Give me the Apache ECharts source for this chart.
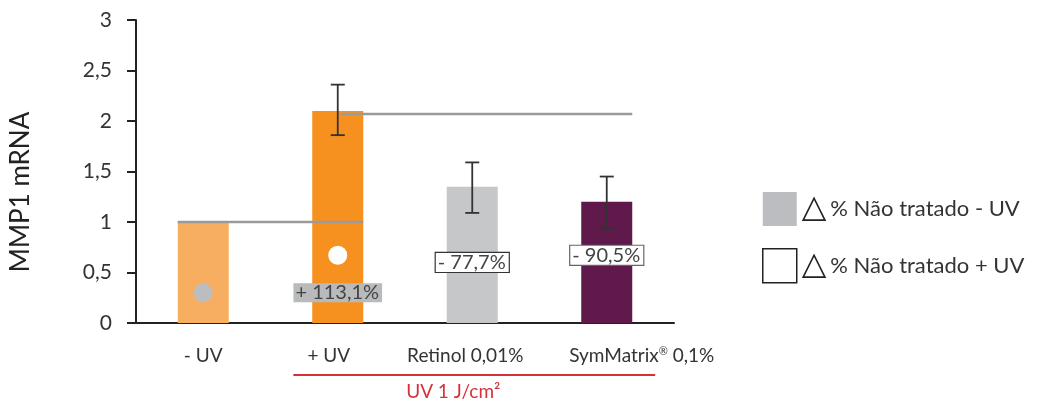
<!DOCTYPE html>
<html>
<head>
<meta charset="utf-8">
<script src="https://cdn.jsdelivr.net/npm/echarts@6/dist/echarts.min.js"></script>
<style>
  html, body { margin: 0; padding: 0; background: #fff; }
  #chart { width: 1042px; height: 403px; }
</style>
</head>
<body>
<div id="chart"></div>
<script>
'use strict';

// dados
const categories = ['- UV', '+ UV', 'Retinol 0,01%', 'SymMatrix® 0,1%'];
const mmp1 = [1.0, 2.1, 1.35, 1.2];
const errLow = [null, 1.86, 1.09, 0.94];
const errHigh = [null, 2.36, 1.59, 1.45];
const yTicks = [0, 0.5, 1, 1.5, 2, 2.5, 3];

// linhas de referência: [categoria inicial, categoria final, nível]
const refLines = [[0, 1, 1.0], [1, 3, 2.07]];

// pontos "não tratado"
const untreatedMinusUV = [[0, 0.3]];
const untreatedPlusUV = [[1, 0.67]];

// variação percentual: [categoria, nível, texto]
const changeLabels = [[1, 0.3, '+ 113,1%'], [2, 0.6, '- 77,7%'], [3, 0.67, '- 90,5%']];

const uvGroup = [[1, 3, 'UV 1 J/cm²']];

const barColors = ['#F8AE61', '#F6911F', '#C6C7C9', '#5F1A4B'];
// pequenos deslocamentos dos rótulos do eixo x (como no original)
const labelPads = [[0, 0, 0, 0], [0, 18, 0, 0], [0, 14, 0, 0], [0, 0, 0, 70]];
const FONT = 'Lato, sans-serif';
const BAR_W = 51;

const chart = echarts.init(document.getElementById('chart'));

const option = {
    animation: false,
    textStyle: { fontFamily: FONT },
    grid: { left: 134, right: 368, top: 20, bottom: 80 },
    legend: {
        orient: 'vertical',
        left: 757,
        top: 187,
        icon: 'rect',
        itemWidth: 34,
        itemHeight: 34,
        itemGap: 22,
        selectedMode: false,
        data: [
            { name: '% Não tratado - UV', itemStyle: { color: '#BCBDC0' } },
            { name: '% Não tratado + UV', itemStyle: { color: '#fff', borderColor: '#222', borderWidth: 1.5 } }
        ],
        formatter: function (name) {
            return '{t|△}{n|' + name + '}';
        },
        textStyle: {
            rich: {
                t: { fontFamily: 'DejaVu Sans', fontSize: 32, color: '#222', padding: [0, 4, 0, 0] },
                n: { fontFamily: FONT, fontSize: 22, color: '#333' }
            }
        }
    },
    xAxis: {
        type: 'category',
        data: categories.map(function (c, i) {
            return { value: c, textStyle: { padding: labelPads[i] } };
        }),
        axisLine: { lineStyle: { color: '#222', width: 2 } },
        axisTick: { length: 12, lineStyle: { color: '#222', width: 2 } },
        axisLabel: {
            color: '#333',
            fontSize: 19,
            margin: 23,
            fontFamily: FONT,
            interval: 0,
            formatter: function (v) {
                return v.indexOf('®') < 0 ? v : v.replace('®', '{s|®}');
            },
            rich: {
                s: { fontSize: 11, color: '#333', fontFamily: FONT, padding: [0, 0, 8, 0] }
            }
        }
    },
    yAxis: {
        type: 'value',
        min: yTicks[0],
        max: yTicks[yTicks.length - 1],
        interval: 0.5,
        name: 'MMP1 mRNA',
        nameLocation: 'middle',
        nameRotate: 90,
        nameGap: 102,
        nameTextStyle: { fontSize: 26, color: '#222', fontFamily: FONT, padding: [0, 41, 0, 0] },
        axisLine: { show: true, lineStyle: { color: '#222', width: 2 } },
        axisTick: { show: true, length: 9, lineStyle: { color: '#222', width: 2 } },
        splitLine: { show: false },
        axisLabel: {
            color: '#333',
            fontSize: 21,
            margin: 24,
            fontFamily: FONT,
            formatter: function (v) { return String(v).replace('.', ','); }
        }
    },
    series: [
        {
            type: 'bar',
            barWidth: BAR_W,
            data: mmp1.map(function (v, i) {
                return { value: v, itemStyle: { color: barColors[i] } };
            }),
            z: 2
        },
        {
            // linhas de referência cinza
            type: 'custom',
            data: refLines,
            z: 3,
            renderItem: function (params, api) {
                const a = api.coord([api.value(0), api.value(2)]);
                const b = api.coord([api.value(1), api.value(2)]);
                const x0 = api.value(0) === 0 ? a[0] - BAR_W / 2 : a[0] + 3;
                return {
                    type: 'line',
                    shape: { x1: x0, y1: a[1], x2: b[0] + BAR_W / 2, y2: b[1] },
                    style: { stroke: '#9A9A9A', lineWidth: 2.5 }
                };
            }
        },
        {
            // barras de erro
            type: 'custom',
            data: categories.map(function (c, i) { return [i, errLow[i], errHigh[i]]; })
                .filter(function (d) { return d[1] != null; }),
            z: 4,
            renderItem: function (params, api) {
                const lo = api.coord([api.value(0), api.value(1)]);
                const hi = api.coord([api.value(0), api.value(2)]);
                const cap = 7;
                const st = { stroke: '#333', lineWidth: 1.8 };
                return {
                    type: 'group',
                    children: [
                        { type: 'line', shape: { x1: hi[0], y1: hi[1], x2: lo[0], y2: lo[1] }, style: st },
                        { type: 'line', shape: { x1: hi[0] - cap, y1: hi[1], x2: hi[0] + cap, y2: hi[1] }, style: st },
                        { type: 'line', shape: { x1: lo[0] - cap, y1: lo[1], x2: lo[0] + cap, y2: lo[1] }, style: st }
                    ]
                };
            }
        },
        {
            name: '% Não tratado - UV',
            type: 'scatter',
            data: untreatedMinusUV,
            symbolSize: 19,
            itemStyle: { color: '#BCBDC0', opacity: 1 },
            z: 5
        },
        {
            name: '% Não tratado + UV',
            type: 'scatter',
            data: untreatedPlusUV,
            symbolSize: 19,
            itemStyle: { color: '#fff', opacity: 1 },
            z: 5
        },
        {
            // rótulos de variação percentual
            type: 'custom',
            data: changeLabels,
            z: 6,
            renderItem: function (params, api) {
                const p = api.coord([api.value(0), api.value(1)]);
                const first = params.dataIndex === 0;
                return {
                    type: 'text',
                    x: p[0],
                    y: p[1],
                    style: {
                        text: changeLabels[params.dataIndex][2],
                        align: 'center',
                        verticalAlign: 'middle',
                        fontFamily: FONT,
                        fontSize: 20,
                        fill: '#444',
                        backgroundColor: first ? '#B9BABC' : '#fff',
                        borderColor: first ? null : (params.dataIndex === 1 ? '#333' : '#666'),
                        borderWidth: first ? 0 : 1.2,
                        padding: [0, 3, -1, 2]
                    }
                };
            }
        },
        {
            // grupo UV 1 J/cm²
            type: 'custom',
            data: uvGroup,
            clip: false,
            z: 6,
            renderItem: function (params, api) {
                const a = api.coord([api.value(0), 0]);
                const b = api.coord([api.value(1), 0]);
                const bw = api.size([1, 0])[0];
                const x1 = a[0] - bw * 0.33;
                const x2 = b[0] + bw * 0.36;
                return {
                    type: 'group',
                    children: [
                        { type: 'line', shape: { x1: x1, y1: a[1] + 52, x2: x2, y2: a[1] + 52 }, style: { stroke: '#D7303A', lineWidth: 2 } },
                        {
                            type: 'text',
                            x: (x1 + x2) / 2 - 21,
                            y: a[1] + 69,
                            style: {
                                text: uvGroup[params.dataIndex][2],
                                align: 'center',
                                verticalAlign: 'middle',
                                fontFamily: FONT,
                                fontSize: 19,
                                fill: '#D7303A'
                            }
                        }
                    ]
                };
            }
        }
    ]
};

chart.setOption(option);
</script>
</body>
</html>
